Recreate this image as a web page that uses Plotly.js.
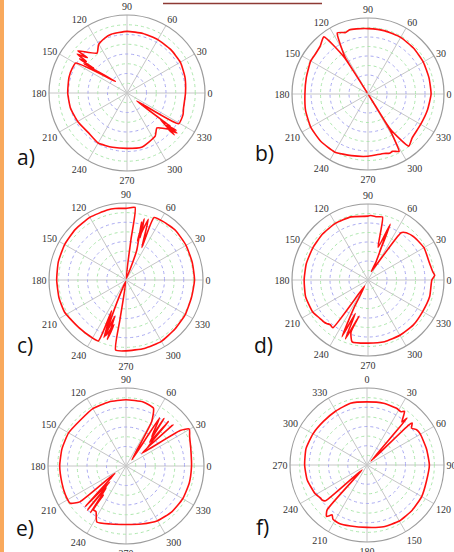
<!DOCTYPE html>
<html><head><meta charset="utf-8">
<script src="https://cdn.plot.ly/plotly-3.0.1.min.js"></script>
<style>html,body{margin:0;padding:0;background:#fff}#chart{width:454px;height:552px}</style>
</head><body><div id="chart"></div>
<script>
// ---- data (angle in degrees, normalized radius) ----
const angleTicks = [0,30,60,90,120,150,180,210,240,270,300,330];
const angleLabels = ['0','30','60','90','120','150','180','210','240','270','300','330'];
const panelLabels = ['a)','b)','c)','d)','e)','f)'];

const thetaA = [0,15,30,45,60,75,90,105,112,120.4,126.9,139.4,138.3,142,142.1,144.3,143.1,145.9,135,149.7,155.6,165,180,195,210,225,240,255,270,285,303.2,310.6,322.9,320.8,321.3,318.7,318.6,321.3,322.4,320.6,329.3,338.9,345,360];
const rA     = [0.75,0.77,0.79,0.79,0.79,0.79,0.79,0.78,0.76,0.72,0.64,0.83,0.68,0.81,0.66,0.75,0.53,0.67,0.21,0.76,0.77,0.77,0.76,0.75,0.73,0.71,0.74,0.72,0.71,0.72,0.66,0.59,0.79,0.66,0.82,0.71,0.81,0.55,0.70,0.16,0.77,0.77,0.75,0.75];

const thetaB = [0,15,30,45,60,75,90,100,106,110,113,116.7,121.8,122,123,127.7,135,142,150,165,180,195,210,225,240,255,270,285,290,293,296,298.4,301.5,302,302.5,308,315,330,345,360];
const rB     = [0.83,0.83,0.84,0.85,0.86,0.86,0.86,0.87,0.88,0.86,0.88,0.90,0.58,0.02,0.58,0.95,0.89,0.87,0.87,0.84,0.83,0.85,0.87,0.88,0.88,0.84,0.82,0.81,0.83,0.82,0.84,0.86,0.54,0.02,0.55,0.87,0.82,0.80,0.81,0.83];

const thetaC = [0,15,30,45,57.4,65.8,64,69.8,73.8,73.4,71.5,75,70,80,83,82.9,90,98.8,105,120,135,150,165,180,195,208,225,240,245.6,245,249,253,252.5,255,250,248.3,260,261.3,261.6,270,285,300,315,330,345,360];
const rC     = [0.89,0.89,0.90,0.91,0.90,0.89,0.47,0.84,0.53,0.83,0.58,0.78,0.40,0.02,0.53,0.95,0.93,0.94,0.94,0.94,0.93,0.92,0.91,0.90,0.90,0.90,0.87,0.87,0.87,0.44,0.80,0.49,0.81,0.60,0.77,0.39,0.02,0.52,0.92,0.92,0.92,0.92,0.90,0.89,0.88,0.89];

const thetaD = [0,4,7,15,30,42.6,50.9,55,68.2,66,68.5,67.5,68.2,72.8,77,82,87.6,90,105,120,135,150,165,180,195,210,218.5,224,226.4,229.9,233.6,241,243.2,245.4,249.3,249,256,251.9,255.6,270,285,300,315,330,345,360];
const rD     = [0.84,0.88,0.86,0.84,0.85,0.83,0.80,0.76,0.12,0.25,0.68,0.40,0.79,0.45,0.85,0.84,0.85,0.84,0.86,0.86,0.85,0.84,0.84,0.84,0.85,0.84,0.81,0.80,0.79,0.77,0.78,0.09,0.41,0.82,0.47,0.83,0.49,0.72,0.84,0.83,0.84,0.84,0.84,0.83,0.84,0.84];

const thetaE = [0,15,25,30.3,33.2,38.9,41.3,40.5,46.3,45.4,51.4,48.8,55,46.6,60,64.6,75,90,105,120,135,150,165,180,195,205,213.7,217.8,213.7,224.8,224.4,228.7,228.2,232.7,232,233.4,236.7,242.5,255,270,285,300,315,330,345,360];
const rE     = [0.84,0.86,0.90,0.94,0.83,0.26,0.80,0.35,0.79,0.43,0.78,0.50,0.75,0.11,0.66,0.82,0.85,0.85,0.85,0.85,0.83,0.85,0.85,0.85,0.85,0.86,0.86,0.75,0.17,0.74,0.29,0.75,0.38,0.75,0.47,0.70,0.70,0.81,0.77,0.75,0.77,0.81,0.83,0.84,0.84,0.84];

const thetaF = [0,15,27.9,32.5,35,39,40.6,45,46.2,47.2,50.4,54.6,60,75,90,105,120,135,150,165,180,195,205.9,212.2,215,218.2,221.6,225,229.2,232.1,234.5,241.3,256,270,285,300,315,330,345,360];
const rF     = [0.82,0.83,0.83,0.82,0.85,0.72,0.80,0.07,0.75,0.80,0.75,0.79,0.80,0.80,0.81,0.80,0.82,0.83,0.84,0.83,0.81,0.82,0.84,0.83,0.79,0.85,0.78,0.09,0.71,0.74,0.74,0.77,0.80,0.81,0.82,0.81,0.80,0.81,0.83,0.82];

const greenRings = [0.125,0.375,0.625,0.875];
const blueRings  = [0.25,0.5,0.75];

// ---- layout ----
const W = 454, H = 552;
const panels = [
  {t: thetaA, r: rA, cx:127, cy:93,  R:78, rot:0,  dir:'counterclockwise', lx:26,  ly:157},
  {t: thetaB, r: rB, cx:368, cy:94,  R:76, rot:0,  dir:'counterclockwise', lx:264, ly:153},
  {t: thetaC, r: rC, cx:126, cy:280, R:77, rot:0,  dir:'counterclockwise', lx:25,  ly:345},
  {t: thetaD, r: rD, cx:368, cy:280, R:76, rot:0,  dir:'counterclockwise', lx:263, ly:345},
  {t: thetaE, r: rE, cx:126, cy:466, R:78, rot:0,  dir:'counterclockwise', lx:25,  ly:528},
  {t: thetaF, r: rF, cx:367, cy:465, R:77, rot:90, dir:'clockwise',        lx:262, ly:527}
];
const pid = n => n === 1 ? 'polar' : 'polar' + n;

const traces = [];
const layout = {
  width: W, height: H, margin: {l:0, r:0, t:0, b:0},
  paper_bgcolor: '#ffffff', showlegend: false,
  shapes: [
    {type:'rect', xref:'paper', yref:'paper', x0:0, x1:4/W, y0:0, y1:1, fillcolor:'#f9a95c', line:{width:0}},
    {type:'line', xref:'paper', yref:'paper', x0:163/W, x1:322/W, y0:1-3.5/H, y1:1-3.5/H, line:{color:'#8e3a34', width:1.5}}
  ],
  annotations: []
};

panels.forEach((p, i) => {
  const dom = {
    x: [(p.cx - p.R)/W, (p.cx + p.R)/W],
    y: [1 - (p.cy + p.R)/H, 1 - (p.cy - p.R)/H]
  };
  const base = pid(2*i + 1), top = pid(2*i + 2);
  layout[base] = {
    domain: dom, bgcolor: '#ffffff',
    radialaxis: {range:[0,1], tickvals: greenRings, showticklabels:false, ticks:'', showline:false,
                 gridcolor:'#aee8ae', griddash:'dot', gridwidth:1},
    angularaxis: {rotation:p.rot, direction:p.dir, tickvals: angleTicks, ticktext: angleLabels, ticks:'',
                  showline:true, linecolor:'#9c9c9c', linewidth:1.2, gridcolor:'#c6c6c6', gridwidth:1,
                  tickfont:{family:'Liberation Serif, DejaVu Serif, serif', size:10, color:'#333'}}
  };
  layout[top] = {
    domain: dom, bgcolor: 'rgba(0,0,0,0)',
    radialaxis: {range:[0,1], tickvals: blueRings, showticklabels:false, ticks:'', showline:false,
                 gridcolor:'#aaaaf2', griddash:'dot', gridwidth:1},
    angularaxis: {rotation:p.rot, direction:p.dir, showgrid:false, showline:false, showticklabels:false, ticks:''}
  };
  // invisible carrier so the base (grid) subplot is drawn
  traces.push({type:'scatterpolar', subplot: base, theta: p.t, r: p.r, mode:'lines',
               line:{color:'rgba(0,0,0,0)', width:0}, hoverinfo:'skip'});
  traces.push({type:'scatterpolar', subplot: top, theta: p.t, r: p.r, mode:'lines',
               line:{color:'#ff1010', width:1.6, shape:'spline', smoothing:0.5}, hoverinfo:'skip'});
  layout.annotations.push({xref:'paper', yref:'paper', x: p.lx/W, y: 1 - p.ly/H, xanchor:'center', yanchor:'middle',
    text: panelLabels[i], showarrow:false, font:{family:'Open Sans, Liberation Sans, sans-serif', size:21, color:'#111'}});
});

Plotly.newPlot('chart', traces, layout, {staticPlot:true, displayModeBar:false});
</script>
</body></html>
